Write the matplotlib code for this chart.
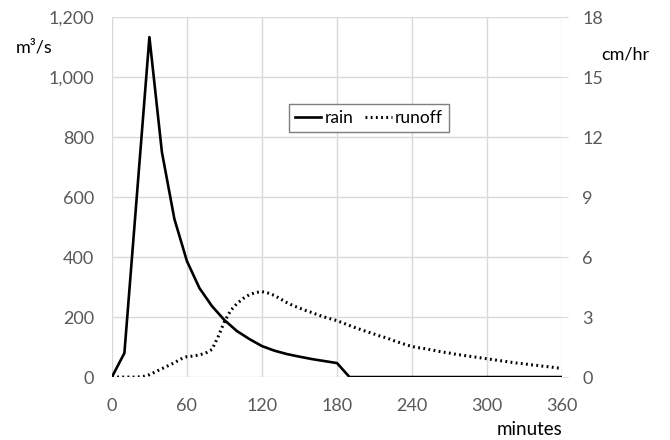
import matplotlib.pyplot as plt
import numpy as np

plt.rcParams['font.family'] = ['Lato', 'DejaVu Sans']

# rain hyetograph, cm/hr at 10-minute steps
rain_t = np.arange(0, 370, 10)
rain = [0, 1.2, 9.1, 17.0, 11.25, 7.9, 5.8, 4.45, 3.55, 2.85, 2.3, 1.9, 1.55,
        1.32, 1.15, 1.02, 0.9, 0.8, 0.7] + [0] * 18

# runoff hydrograph, m3/s at 5-minute steps
runoff_t = np.arange(0, 365, 5)
runoff = [0, 0, 0, 0, 0, 2, 8, 18, 28, 38, 48, 60, 68, 70, 74, 80, 92, 135,
          185, 222, 245, 262, 275, 282, 285, 280, 272, 260, 248, 238, 230,
          222, 215, 207, 200, 194, 188, 180, 172, 164, 157, 150, 143, 136,
          130, 122, 115, 108, 102, 98, 95, 91, 87, 83, 80, 76, 73, 70, 67,
          64, 61, 58, 55, 52, 49, 46, 44, 41, 39, 36, 34, 31, 29]

grey = '#595959'
fig, ax = plt.subplots(figsize=(6.7, 4.4), dpi=100)
fig.subplots_adjust(left=0.167, right=0.839, top=0.961, bottom=0.143)
ax2 = ax.twinx()

l2, = ax.plot(runoff_t, runoff, color='black', lw=2.2, ls=(0, (0.6, 1.1)),
              label='runoff')
l1, = ax2.plot(rain_t, rain, color='black', lw=1.9, label='rain')

ax.set_xlim(0, 360)
ax.set_ylim(0, 1200)
ax2.set_ylim(0, 18)
ax.set_xticks(np.arange(0, 361, 60))
ax.set_yticks(np.arange(0, 1201, 200))
ax.set_yticklabels([f'{v:,}' for v in range(0, 1201, 200)])
ax2.set_yticks(np.arange(0, 19, 3))

ax.grid(True, color='#d9d9d9', lw=1)
ax.set_axisbelow(True)
for a in (ax, ax2):
    for s in a.spines.values():
        s.set_visible(False)
ax.tick_params(axis='x', length=0, labelsize=13, labelcolor=grey, pad=15)
ax.tick_params(axis='y', length=0, labelsize=13, labelcolor=grey, pad=13)
ax2.tick_params(axis='y', length=4.5, color='#d9d9d9', labelsize=13,
                labelcolor=grey, pad=10)

fig.text(0.051, 0.893, 'm³/s', fontsize=13, ha='center', va='center')
fig.text(0.934, 0.877, 'cm/hr', fontsize=13, ha='center', va='center')
fig.text(0.791, 0.023, 'minutes', fontsize=13.5, ha='center', va='center')

leg = ax.legend([l1, l2], ['rain', 'runoff'], loc='center',
                bbox_to_anchor=(0.571, 0.72), ncol=2, fontsize=12.5,
                fancybox=False, framealpha=1, edgecolor='#7f7f7f',
                handlelength=1.5, handletextpad=0.2, columnspacing=0.7,
                borderpad=0.35)
leg.get_frame().set_linewidth(1)

fig.savefig('out.png')
